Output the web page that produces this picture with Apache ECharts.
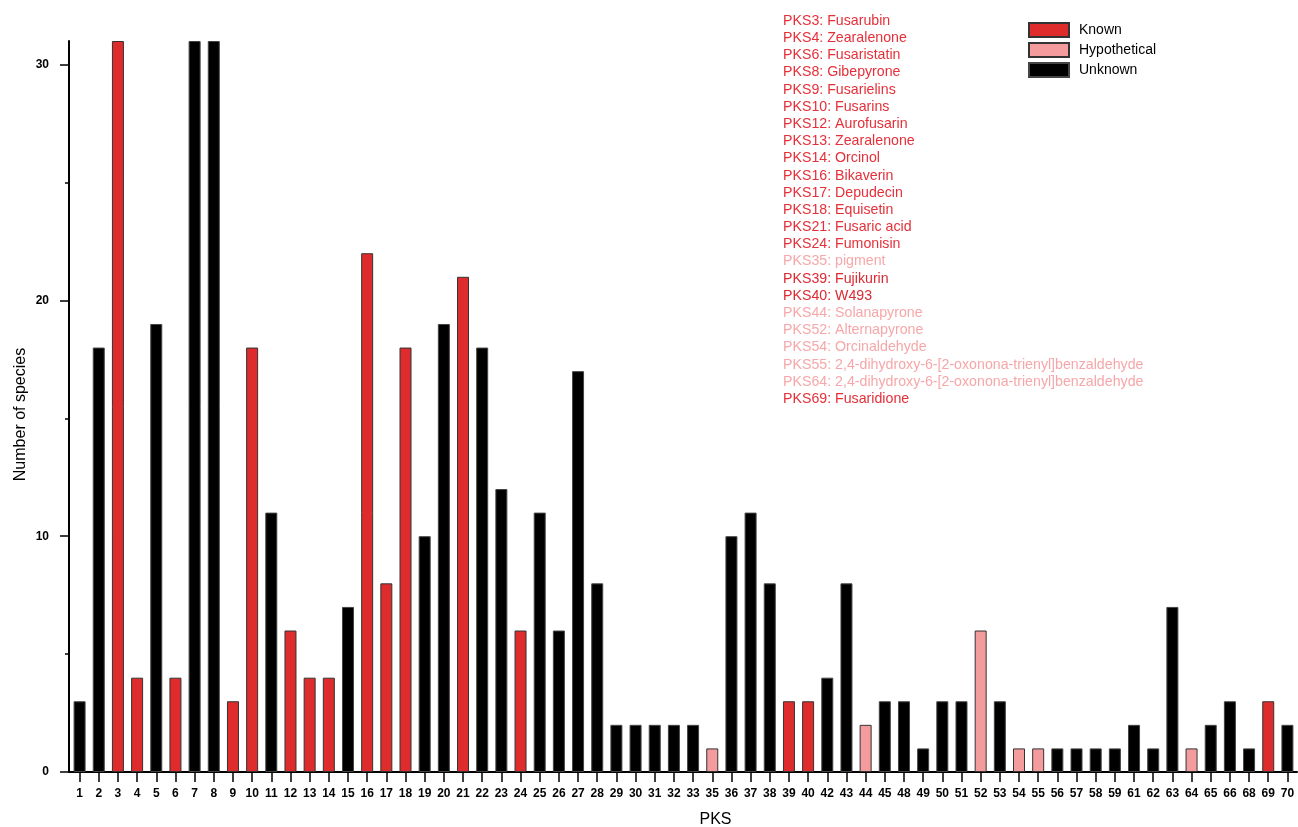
<!DOCTYPE html>
<html>
<head>
<meta charset="utf-8">
<title>PKS species</title>
<script src="https://cdn.jsdelivr.net/npm/echarts@6/dist/echarts.min.js"></script>
<style>
  html, body { margin: 0; padding: 0; background: #fff; }
  #chart { width: 1298px; height: 827px; }
</style>
</head>
<body>
<div id="chart"></div>
<script>
// categories along the x axis
var pksIds = ['1','2','3','4','5','6','7','8','9','10','11','12','13','14','15','16','17','18','19','20',
  '21','22','23','24','25','26','27','28','29','30','31','32','33','35','36','37','38','39','40','42',
  '43','44','45','48','49','50','51','52','53','54','55','56','57','58','59','61','62','63','64','65',
  '66','68','69','70'];
// number of species for each PKS
var speciesCount = [3,18,31,4,19,4,31,31,3,18,11,6,4,4,7,22,8,18,10,19,
  21,18,12,6,11,6,17,8,2,2,2,2,2,1,10,11,8,3,3,4,
  8,2,3,3,1,3,3,6,3,1,1,1,1,1,1,2,1,7,1,2,
  3,1,3,2];
// K = known, H = hypothetical, U = unknown
var pksStatus = ['U','U','K','K','U','K','U','U','K','K','U','K','K','K','U','K','K','K','U','U',
  'K','U','U','K','U','U','U','U','U','U','U','U','U','H','U','U','U','K','K','U',
  'U','H','U','U','U','U','U','H','U','H','H','U','U','U','U','U','U','U','H','U',
  'U','U','K','U'];

var noteLines = ['PKS3: Fusarubin','PKS4: Zearalenone','PKS6: Fusaristatin','PKS8: Gibepyrone','PKS9: Fusarielins',
  'PKS10: Fusarins','PKS12: Aurofusarin','PKS13: Zearalenone','PKS14: Orcinol','PKS16: Bikaverin',
  'PKS17: Depudecin','PKS18: Equisetin','PKS21: Fusaric acid','PKS24: Fumonisin','PKS35: pigment',
  'PKS39: Fujikurin','PKS40: W493','PKS44: Solanapyrone','PKS52: Alternapyrone','PKS54: Orcinaldehyde',
  'PKS55: 2,4-dihydroxy-6-[2-oxonona-trienyl]benzaldehyde','PKS64: 2,4-dihydroxy-6-[2-oxonona-trienyl]benzaldehyde',
  'PKS69: Fusaridione'];
var noteKinds = ['K','K','K','K','K','K','K','K','K','K','K','K','K','K','H','D','D','H','H','H','H','H','K'];

var FONT = 'Arial, "Liberation Sans", sans-serif';
var colors = { K: '#de2c2d', H: '#f49c9d', U: '#000000' };
var noteColors = { K: '#e5303a', D: '#db2a33', H: '#f7a7a9' };

function seriesFor(kind) {
  return speciesCount.map(function (v, i) { return pksStatus[i] === kind ? v : '-'; });
}

var chart = echarts.init(document.getElementById('chart'));

var notes = noteLines.map(function (t, i) {
  return {
    type: 'text',
    left: 783,
    top: 14 + i * 17.18,
    style: { text: t, fill: noteColors[noteKinds[i]], font: '14.2px ' + FONT }
  };
});

var option = {
  animation: false,
  backgroundColor: '#fff',
  textStyle: { fontFamily: FONT },
  legend: {
    orient: 'vertical',
    left: 1028,
    top: 22,
    padding: 0,
    icon: 'rect',
    itemWidth: 40,
    itemHeight: 14,
    itemGap: 4,
    textStyle: { color: '#000', fontSize: 14, fontFamily: FONT, padding: [0, 0, 0, 5] },
    data: ['Known', 'Hypothetical', 'Unknown']
  },
  graphic: notes,
  grid: [
    { left: 70, right: 1, top: 41, bottom: 55, outerBoundsMode: 'none' },
    { left: 70, right: 1, top: 64.6, bottom: 55, outerBoundsMode: 'none' }
  ],
  xAxis: [
    {
      type: 'category',
      gridIndex: 0,
      data: pksIds,
      axisLine: { lineStyle: { color: '#000', width: 2 } },
      axisTick: { show: true, alignWithLabel: true, interval: 0, length: 10, lineStyle: { color: '#000', width: 1.5 } },
      axisLabel: { interval: 0, color: '#000', fontWeight: 'bold', fontSize: 12, margin: 16, fontFamily: FONT },
      name: 'PKS',
      nameLocation: 'middle',
      nameGap: 40,
      nameTextStyle: { color: '#000', fontSize: 16, fontFamily: FONT, padding: [0, 0, 0, 64] }
    },
    { type: 'value', gridIndex: 1, show: false }
  ],
  yAxis: [
    {
      type: 'value',
      gridIndex: 0,
      min: 0,
      max: 31,
      offset: 1,
      splitLine: { show: false },
      axisLine: { show: true, lineStyle: { color: '#000', width: 2 } },
      axisTick: { show: false },
      axisLabel: { show: false },
      name: 'Number of species',
      nameLocation: 'middle',
      nameGap: 40,
      nameTextStyle: { color: '#000', fontSize: 16, fontFamily: FONT, padding: [0, 0, 0, -16] }
    },
    {
      type: 'value',
      gridIndex: 1,
      min: 0,
      max: 30,
      interval: 10,
      offset: 1,
      splitLine: { show: false },
      axisLine: { show: false },
      axisTick: { show: true, length: 10, lineStyle: { color: '#000', width: 1.5 } },
      minorTick: { show: true, splitNumber: 2, length: 5, lineStyle: { color: '#000', width: 1.5 } },
      minorSplitLine: { show: false },
      axisLabel: { color: '#000', fontWeight: 'bold', fontSize: 12, margin: 20, fontFamily: FONT }
    }
  ],
  series: [
    { name: 'Known', kind: 'K' },
    { name: 'Hypothetical', kind: 'H' },
    { name: 'Unknown', kind: 'U' }
  ].map(function (s) {
    return {
      name: s.name,
      type: 'bar',
      stack: 'pks',
      xAxisIndex: 0,
      yAxisIndex: 0,
      barWidth: 12,
      data: seriesFor(s.kind),
      itemStyle: { color: colors[s.kind], borderColor: s.kind === 'U' ? '#444' : '#333', borderWidth: 1 }
    };
  })
};

chart.setOption(option);
</script>
</body>
</html>
